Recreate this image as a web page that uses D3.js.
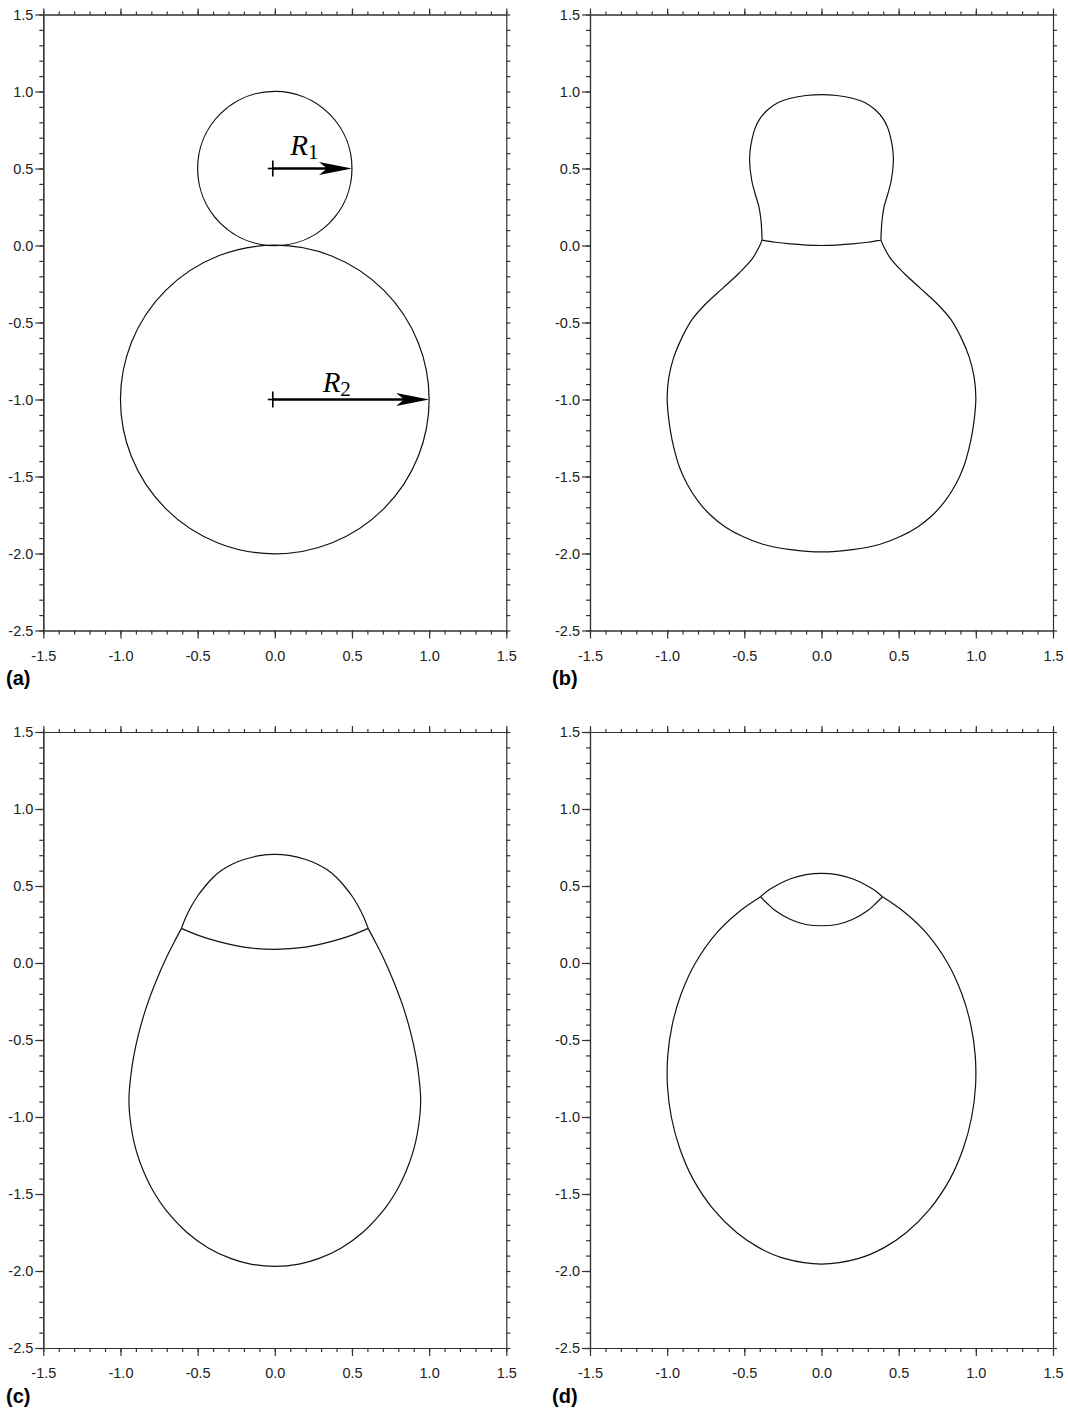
<!DOCTYPE html>
<html>
<head>
<meta charset="utf-8">
<script src="https://cdn.jsdelivr.net/npm/d3@7"></script>
<style>
  body { margin: 0; background: #fff; }
  .panel-label { font-family: "Liberation Sans", Arial, sans-serif; font-size: 20px; font-weight: bold; }
  .rlabel { font-family: "Liberation Serif", "Times New Roman", serif; font-style: italic; font-size: 29px; }
  .rsub { font-style: normal; font-size: 21px; }
</style>
</head>
<body>
<svg width="1068" height="1411"></svg>
<script>
var width = 1068;
var height = 1411;

// axis ranges and tick values
var xMajor = [-1.5, -1.0, -0.5, 0.0, 0.5, 1.0, 1.5];
var yMajor = [-2.5, -2.0, -1.5, -1.0, -0.5, 0.0, 0.5, 1.0, 1.5];
var xMinor = d3.range(-15, 16).map(d => d / 10);
var yMinor = d3.range(-25, 16).map(d => d / 10);

// (a) two touching circles: centre x, centre y, radius
var circlesA = [
  { cx: 0, cy: 0.5, r: 0.5 },
  { cx: 0, cy: -1.0, r: 1.0 }
];
// radius arrows from centre to rim
var arrowsA = [
  { x0: 0, y0: 0.5, x1: 0.5, label: "1", lx: 0.1, ly: 0.585 },
  { x0: 0, y0: -1.0, x1: 1.0, label: "2", lx: 0.31, ly: -0.95 }
];

// right halves of the outlines (mirrored about x = 0)
// cap: top centre -> junction, body: junction -> bottom centre, iface: centre -> junction
var capB = [[0, 0.98], [0.1, 0.974], [0.2, 0.956], [0.28, 0.928], [0.35, 0.88], [0.40, 0.822],
            [0.43, 0.762], [0.45, 0.69], [0.462, 0.62], [0.466, 0.55], [0.452, 0.422],
            [0.43, 0.336], [0.405, 0.249], [0.392, 0.162], [0.387, 0.09], [0.385, 0.035]];
var bodyB = [[0.385, 0.035], [0.405, -0.011], [0.448, -0.085], [0.535, -0.18], [0.643, -0.28],
             [0.751, -0.38], [0.838, -0.48], [0.903, -0.595], [0.957, -0.725], [0.989, -0.855],
             [1.0, -0.985], [0.993, -1.10], [0.978, -1.21], [0.955, -1.32], [0.92, -1.44],
             [0.87, -1.55], [0.80, -1.66], [0.72, -1.75], [0.621, -1.829], [0.51, -1.89],
             [0.38, -1.94], [0.2, -1.975], [0, -1.99]];
var ifaceB = [[0, 0], [0.1, 0.003], [0.2, 0.01], [0.3, 0.021], [0.385, 0.035]];

var capC = [[0, 0.705], [0.1, 0.697], [0.2, 0.672], [0.27, 0.645], [0.34, 0.605], [0.40, 0.555],
            [0.45, 0.50], [0.50, 0.435], [0.54, 0.37], [0.575, 0.30], [0.605, 0.225]];
var bodyC = [[0.605, 0.225], [0.655, 0.13], [0.70, 0.04], [0.77, -0.12], [0.83, -0.28],
             [0.88, -0.45], [0.915, -0.61], [0.935, -0.75], [0.945, -0.88], [0.939, -1.0],
             [0.903, -1.2], [0.83, -1.4], [0.777, -1.5], [0.709, -1.6], [0.569, -1.75],
             [0.431, -1.85], [0.283, -1.92], [0.157, -1.955], [0, -1.97]];
var ifaceC = [[0, 0.089], [0.2, 0.103], [0.375, 0.142], [0.5, 0.181], [0.605, 0.225]];

var capD = [[0, 0.582], [0.1, 0.574], [0.2, 0.547], [0.28, 0.51], [0.34, 0.475], [0.395, 0.43]];
var bodyD = [[0.395, 0.43], [0.538, 0.33], [0.675, 0.2], [0.817, 0.0], [0.909, -0.2],
             [0.967, -0.4], [0.996, -0.6], [0.998, -0.8], [0.973, -1.0], [0.92, -1.2],
             [0.834, -1.4], [0.70, -1.6], [0.55, -1.75], [0.403, -1.85], [0.236, -1.92], [0, -1.955]];
var ifaceD = [[0, 0.242], [0.1, 0.25], [0.2, 0.282], [0.3, 0.341], [0.35, 0.385], [0.395, 0.43]];

var panels = [
  { id: "a", left: 43.3, top: 14.5, label: "(a)", lx: 6, ly: 685 },
  { id: "b", left: 590, top: 14.5, label: "(b)", lx: 552, ly: 685, parts: [capB, bodyB, ifaceB] },
  { id: "c", left: 43.3, top: 732, label: "(c)", lx: 6, ly: 1403, parts: [capC, bodyC, ifaceC] },
  { id: "d", left: 590, top: 732, label: "(d)", lx: 552, ly: 1403, parts: [capD, bodyD, ifaceD] }
];
var pw = 463, ph = 616;

var svg = d3.select("svg").attr("width", width).attr("height", height);
svg.append("rect").attr("width", width).attr("height", height).attr("fill", "#fff");

// mirror helpers
function fromCentre(half) {   // half starts on axis -> symmetric curve
  var left = half.slice(1).reverse().map(p => [-p[0], p[1]]);
  return left.concat(half);
}
function fromJunction(half) { // half ends on axis -> junction to junction
  var left = half.slice(0, -1).reverse().map(p => [-p[0], p[1]]);
  return half.concat(left);
}

var line = d3.line().curve(d3.curveCatmullRom.alpha(0.5));

panels.forEach(p => {
  var g = svg.append("g").attr("transform", `translate(${p.left},${p.top})`);
  var x = d3.scaleLinear().domain([-1.5, 1.5]).range([0, pw]);
  var y = d3.scaleLinear().domain([-2.5, 1.5]).range([ph, 0]);
  var fmt = d => d.toFixed(1);

  // minor ticks
  g.append("g").attr("transform", `translate(0,${ph})`)
    .call(d3.axisBottom(x).tickValues(xMinor).tickSize(4).tickSizeOuter(0).tickFormat(""));
  g.append("g").call(d3.axisLeft(y).tickValues(yMinor).tickSize(4).tickSizeOuter(0).tickFormat(""));
  g.append("g").call(d3.axisTop(x).tickValues(xMinor).tickSize(3).tickSizeOuter(0).tickFormat(""));
  g.append("g").attr("transform", `translate(${pw},0)`)
    .call(d3.axisRight(y).tickValues(yMinor).tickSize(4).tickSizeOuter(0).tickFormat(""));
  // major ticks with labels
  g.append("g").attr("transform", `translate(0,${ph})`)
    .call(d3.axisBottom(x).tickValues(xMajor).tickSize(8).tickSizeOuter(0).tickPadding(12).tickFormat(fmt));
  g.append("g")
    .call(d3.axisLeft(y).tickValues(yMajor).tickSize(8).tickSizeOuter(0).tickPadding(2).tickFormat(fmt));
  g.append("g").call(d3.axisTop(x).tickValues(xMajor).tickSize(6).tickSizeOuter(0).tickFormat(""));

  g.selectAll(".domain, .tick line").attr("stroke", "#333").attr("stroke-width", 1.2);
  g.selectAll(".tick text")
    .attr("font-family", "'Liberation Sans', Arial, sans-serif")
    .attr("font-size", "14.5px")
    .attr("fill", "#222");

  svg.append("text").attr("class", "panel-label").attr("x", p.lx).attr("y", p.ly).text(p.label);

  var shapes = g.append("g").attr("fill", "none").attr("stroke", "#111").attr("stroke-width", 1.2);

  if (p.id === "a") {
    shapes.selectAll("circle").data(circlesA).enter().append("circle")
      .attr("cx", d => x(d.cx)).attr("cy", d => y(d.cy))
      .attr("r", d => x(d.r) - x(0));

    var ag = g.append("g");
    arrowsA.forEach(a => {
      var sx = x(a.x0), sy = y(a.y0), ex = x(a.x1);
      // centre cross
      ag.append("line").attr("x1", sx - 7).attr("x2", sx).attr("y1", sy).attr("y2", sy)
        .attr("stroke", "#000").attr("stroke-width", 1.6);
      ag.append("line").attr("x1", sx - 2).attr("x2", sx - 2).attr("y1", sy - 8).attr("y2", sy + 8)
        .attr("stroke", "#000").attr("stroke-width", 1.6);
      // shaft
      ag.append("line").attr("x1", sx - 2).attr("x2", ex - 20).attr("y1", sy).attr("y2", sy)
        .attr("stroke", "#000").attr("stroke-width", 2.6);
      // barbed head
      ag.append("path")
        .attr("d", `M${ex},${sy} L${ex - 33},${sy - 6.5} L${ex - 25},${sy} L${ex - 33},${sy + 6.5} Z`)
        .attr("fill", "#000");
      var t = ag.append("text").attr("class", "rlabel").attr("x", x(a.lx)).attr("y", y(a.ly));
      t.append("tspan").text("R");
      t.append("tspan").attr("class", "rsub").attr("dy", 4).text(a.label);
    });
  } else {
    var cap = p.parts[0], body = p.parts[1], iface = p.parts[2];
    var curves = [fromCentre(cap), fromJunction(body), fromCentre(iface)];
    shapes.selectAll("path").data(curves).enter().append("path")
      .attr("d", d => line(d.map(q => [x(q[0]), y(q[1])])));
  }
});
</script>
</body>
</html>
